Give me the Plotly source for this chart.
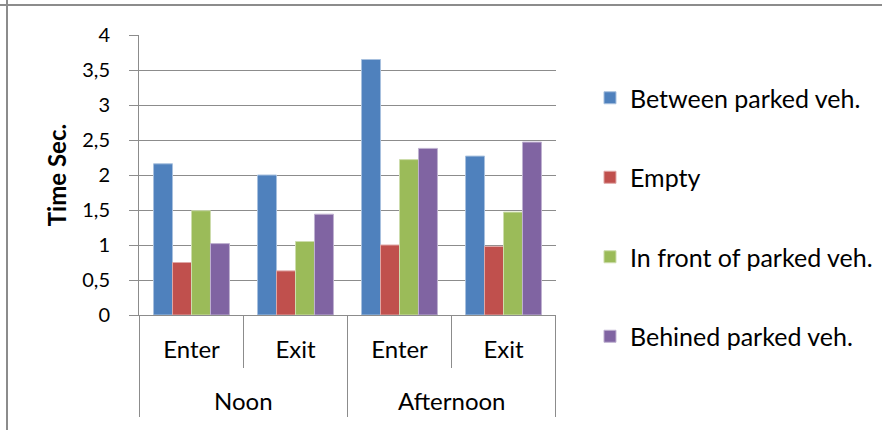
import plotly.graph_objects as go

periods = ["Noon", "Noon", "Afternoon", "Afternoon"]
moves = ["Enter", "Exit", "Enter", "Exit"]

series_names = ["Between parked veh.", "Empty", "In front of parked veh.", "Behined parked veh."]
between = [2.16, 2.00, 3.65, 2.27]
empty = [0.75, 0.63, 1.00, 0.98]
in_front = [1.49, 1.05, 2.22, 1.47]
behind = [1.02, 1.44, 2.38, 2.47]

y_ticks = [0, 0.5, 1, 1.5, 2, 2.5, 3, 3.5, 4]
y_tick_labels = ["0", "0,5", "1", "1,5", "2", "2,5", "3", "3,5", "4"]

colors = ["#4F81BD", "#C0504D", "#9BBB59", "#8064A2"]
edge_colors = ["#A7C0DE", "#DFA7A6", "#CDDDAC", "#BFB1D0"]
GRAY = "#8C8C8C"
FONT = "Lato"

cats = [f"{p} {m}" for p, m in zip(periods, moves)]

fig = go.Figure()
for i, (name, vals) in enumerate(zip(series_names, [between, empty, in_front, behind])):
    fig.add_trace(go.Bar(
        x=cats, y=vals, name=name,
        marker=dict(color=colors[i], line=dict(color=edge_colors[i], width=1)),
        legendgroup=str(i),
    ))
# empty helper trace so the overlay axis with the short tick marks is drawn
fig.add_trace(go.Scatter(x=[], y=[], yaxis="y2", showlegend=False, hoverinfo="skip"))

H_PLOT = 280
fig.update_layout(
    width=882, height=430,
    margin=dict(l=139, r=326, t=35, b=115, autoexpand=False),
    paper_bgcolor="white", plot_bgcolor="white",
    barmode="group", bargap=0.27, bargroupgap=0,
    font=dict(family=FONT, size=20, color="black"),
    legend=dict(x=1.0815, xref="paper", y=1 - 75 / 430, yref="container",
                xanchor="left", yanchor="top", maxheight=1,
                font=dict(size=25), tracegroupgap=44, itemclick=False),
    showlegend=True,
)
# y axis carrying the labels (transparent long ticks give the label gap)
fig.update_layout(yaxis=dict(
    range=[0, 4], tickvals=y_ticks, ticktext=y_tick_labels,
    showgrid=True, gridcolor=GRAY, gridwidth=1,
    showline=True, linecolor=GRAY, linewidth=1,
    ticks="outside", ticklen=24, tickcolor="rgba(0,0,0,0)",
    title=dict(text="<b>Time Sec.</b>", standoff=8, font=dict(size=24)),
    zeroline=False, automargin=False))
# overlay axis drawing the short visible tick marks
fig.update_layout(yaxis2=dict(
    overlaying="y", matches="y", range=[0, 4], tickvals=y_ticks, side="left",
    showticklabels=False, showgrid=False, zeroline=False, showline=False,
    ticks="outside", ticklen=9, tickcolor=GRAY, automargin=False))
fig.update_xaxes(type="category", tickvals=cats, ticktext=moves,
                 showline=True, linecolor=GRAY, linewidth=1,
                 ticks="outside", tickson="boundaries", ticklen=52, tickcolor=GRAY,
                 tickfont=dict(size=24), ticklabelstandoff=13, automargin=False)

# outer (period) labels and dividers, derived from the category lists
groups = []
for idx, p in enumerate(periods):
    if not groups or groups[-1][0] != p:
        groups.append([p, idx, idx])
    else:
        groups[-1][2] = idx
for p, i0, i1 in groups:
    fig.add_annotation(x=(i0 + i1) / 2, xref="x", y=-(400 - 315) / H_PLOT, yref="paper",
                       text=p, showarrow=False, yanchor="middle", font=dict(size=24))
bounds = [groups[0][1] - 0.5] + [g[2] + 0.5 for g in groups]
for b in bounds:
    fig.add_shape(type="line", xref="x", yref="paper", x0=b, x1=b, y0=0, y1=-(417 - 315) / H_PLOT,
                  line=dict(color=GRAY, width=1))

# chart border (top and left visible)
fig.add_shape(type="line", xref="paper", yref="paper", x0=-1, x1=2,
              y0=1 + 30 / H_PLOT, y1=1 + 30 / H_PLOT, line=dict(color=GRAY, width=2))
fig.add_shape(type="line", xref="paper", yref="paper", x0=-132 / 417, x1=-132 / 417,
              y0=-1, y1=2, line=dict(color=GRAY, width=2))

fig.write_html("out.html", config={"displayModeBar": False},
               post_script="document.body.style.margin='0px';")
